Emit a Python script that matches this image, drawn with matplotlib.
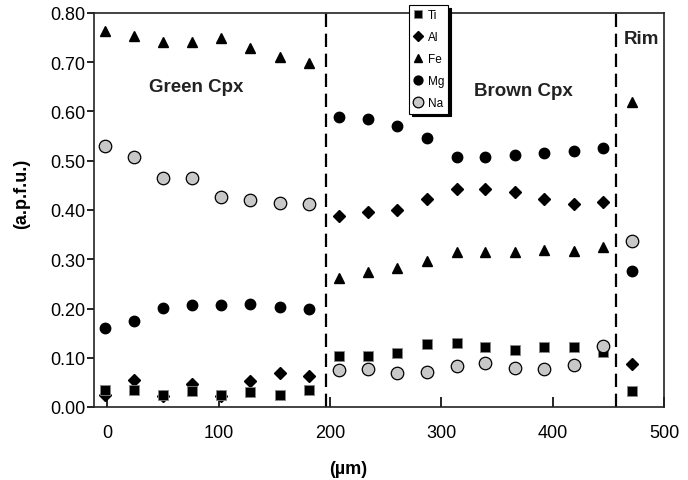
import numpy as np
import matplotlib
matplotlib.use("Agg")
import matplotlib.pyplot as plt

plt.rcParams['font.family'] = ['Liberation Sans', 'DejaVu Sans']

# distances along the profile (µm)
x_green = [-2, 24, 50, 76, 102, 128, 155, 181]
x_brown = [208, 234, 260, 287, 314, 339, 366, 392, 419, 445]
x_rim = [471]

# a.p.f.u. values: green core, brown mantle, rim
ti = [0.034, 0.034, 0.024, 0.032, 0.024, 0.030, 0.024, 0.035,
      0.104, 0.104, 0.109, 0.127, 0.129, 0.122, 0.116, 0.121, 0.121, 0.112,
      0.033]
al = [0.025, 0.055, 0.023, 0.047, 0.023, 0.053, 0.070, 0.063,
      0.388, 0.395, 0.401, 0.422, 0.443, 0.443, 0.437, 0.422, 0.412, 0.416,
      0.087]
fe = [0.764, 0.753, 0.742, 0.742, 0.749, 0.728, 0.711, 0.698,
      0.261, 0.275, 0.282, 0.297, 0.315, 0.315, 0.314, 0.319, 0.317, 0.324,
      0.619]
mg = [0.161, 0.175, 0.201, 0.208, 0.208, 0.210, 0.204, 0.200,
      0.588, 0.585, 0.571, 0.546, 0.507, 0.507, 0.512, 0.516, 0.519, 0.526,
      0.276]
na = [0.530, 0.508, 0.464, 0.464, 0.427, 0.420, 0.414, 0.412,
      0.075, 0.077, 0.069, 0.072, 0.084, 0.089, 0.079, 0.077, 0.085, 0.124,
      0.337]

boundaries = [196, 457]
zones = [("Green Cpx", 80, 0.65), ("Brown Cpx", 374, 0.642), ("Rim", 480, 0.749)]

x = np.array(x_green + x_brown + x_rim)

fig = plt.figure(figsize=(6.88, 4.81), dpi=100)
ax = fig.add_axes([94/688, 1-408/481, 570/688, 394/481])

gray = "#c8c8c8"
ax.plot(x, al, "D", color="black", ms=6, ls="none", label="Al", zorder=3)
ax.plot(x, ti, "s", color="black", mec="#888888", mew=0.6, ms=7.5, ls="none", label="Ti", zorder=4)
ax.plot(x, fe, "^", color="black", ms=7.5, ls="none", label="Fe", zorder=4)
ax.plot(x, mg, "o", color="black", ms=7.5, ls="none", label="Mg", zorder=4)
ax.plot(x, na, "o", mfc=gray, mec="black", mew=0.9, ms=9, ls="none", label="Na", zorder=5)

for b in boundaries:
    ax.axvline(b, color="black", lw=1.6, dashes=(6, 3), zorder=2)

for txt, tx, ty in zones:
    ax.text(tx, ty, txt, ha="center", va="center", fontsize=13.5, fontweight="bold",
            color="#222222")

ax.set_xlim(-12, 500)
ax.set_ylim(0, 0.8)
ax.set_xticks([0, 100, 200, 300, 400, 500])
ax.set_yticks(np.arange(0, 0.81, 0.1))
ax.set_yticklabels([f"{v:.2f}" for v in np.arange(0, 0.81, 0.1)])
ax.tick_params(axis="x", direction="in", length=7, width=1.2, labelsize=13, pad=12)
ax.tick_params(axis="y", direction="out", length=5, width=1.2, labelsize=13, pad=1)
for s in ax.spines.values():
    s.set_linewidth(1.2)
    s.set_color("#222222")

ax.set_ylabel("(a.p.f.u.)", fontsize=13, fontweight="bold")
ax.yaxis.set_label_coords(-0.112, 0.544)
ax.set_xlabel("(µm)", fontsize=13, fontweight="bold")
ax.xaxis.set_label_coords(0.446, -0.135)

h, l = ax.get_legend_handles_labels()
order = [l.index(k) for k in ["Ti", "Al", "Fe", "Mg", "Na"]]
leg = ax.legend([h[i] for i in order], [l[i] for i in order], loc="upper left",
                bbox_to_anchor=(0.553, 1.02), fontsize=8.5, frameon=True, fancybox=False,
                shadow={"color": "black", "alpha": 1}, edgecolor="black", framealpha=1,
                handlelength=0.8, handletextpad=0.4, borderpad=0.35, labelspacing=0.85,
                borderaxespad=0, markerscale=0.85)
leg.get_frame().set_linewidth(0.8)
leg.set_zorder(10)

fig.savefig("out.png", dpi=100)
